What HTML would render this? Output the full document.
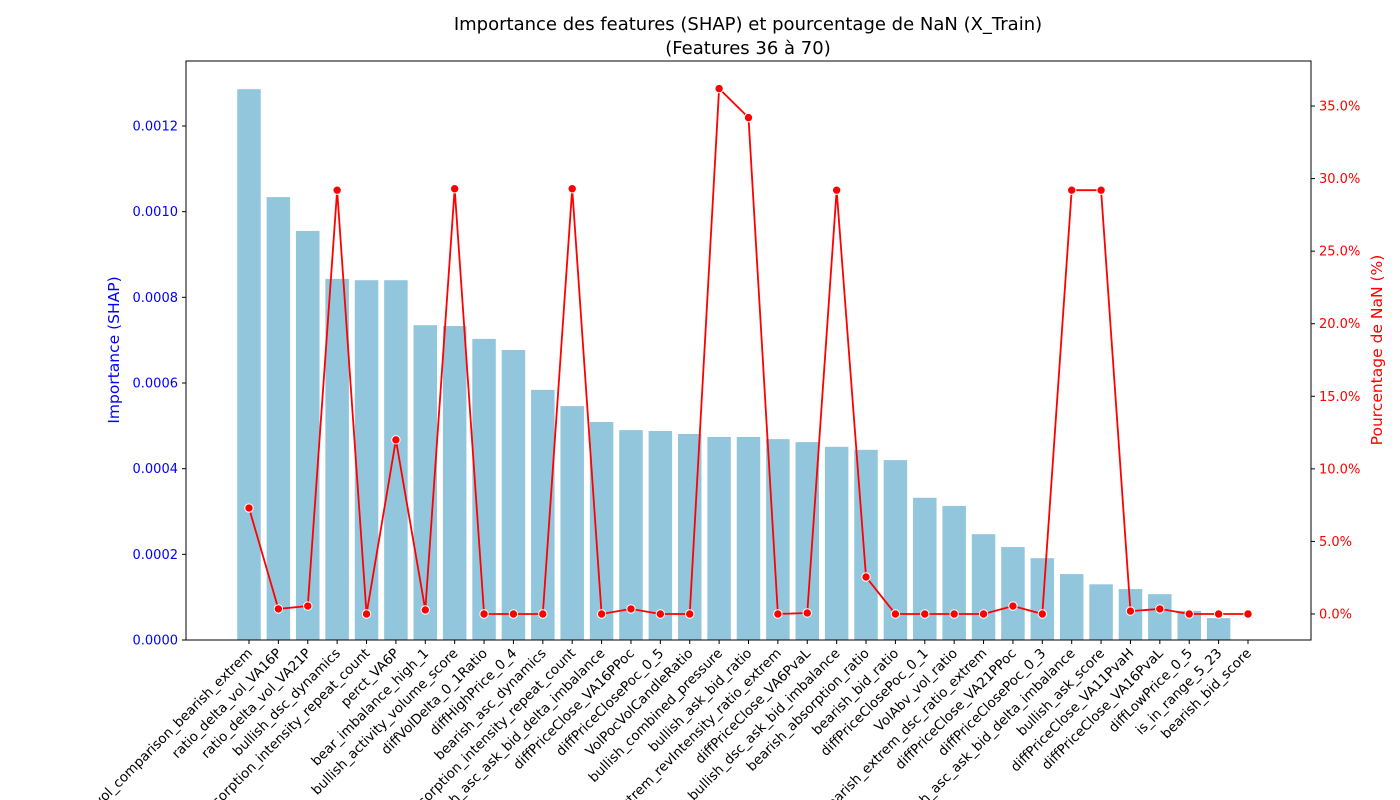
<!DOCTYPE html>
<html><head><meta charset="utf-8"><style>
html,body{margin:0;background:#fff;overflow:hidden;width:1400px;height:800px}
svg{font-family:"DejaVu Sans","Liberation Sans",sans-serif;display:block;overflow:hidden}
</style></head><body>
<svg id="chart" width="1400" height="800"></svg>
<script>
const categories=["vol_comparison_bearish_extrem","ratio_delta_vol_VA16P","ratio_delta_vol_VA21P","bullish_dsc_dynamics","absorption_intensity_repeat_count","perct_VA6P","bear_imbalance_high_1","bullish_activity_volume_score","diffVolDelta_0_1Ratio","diffHighPrice_0_4","bearish_asc_dynamics","bullish_absorption_intensity_repeat_count","bearish_asc_ask_bid_delta_imbalance","diffPriceClose_VA16PPoc","diffPriceClosePoc_0_5","VolPocVolCandleRatio","bullish_combined_pressure","bullish_ask_bid_ratio","bearish_extrem_revIntensity_ratio_extrem","diffPriceClose_VA6PvaL","bullish_dsc_ask_bid_imbalance","bearish_absorption_ratio","bearish_bid_ratio","diffPriceClosePoc_0_1","VolAbv_vol_ratio","bearish_extrem_dsc_ratio_extrem","diffPriceClose_VA21PPoc","diffPriceClosePoc_0_3","bullish_asc_ask_bid_delta_imbalance","bullish_ask_score","diffPriceClose_VA11PvaH","diffPriceClose_VA16PvaL","diffLowPrice_0_5","is_in_range_5_23","bearish_bid_score"];
const shapValues=[0.001286,0.001034,0.000955,0.000843,0.00084,0.00084,0.000735,0.000733,0.000703,0.000677,0.000584,0.000546,0.000509,0.00049,0.000488,0.000481,0.000474,0.000474,0.000469,0.000462,0.000451,0.000444,0.00042,0.000332,0.000313,0.000247,0.000217,0.000191,0.000154,0.00013,0.000119,0.000107,0.000068,0.000051,0];
const nanPct=[7.3,0.35,0.55,29.2,0,12.0,0.28,29.3,0,0,0,29.3,0,0.35,0,0,36.2,34.2,0,0.07,29.2,2.55,0,0,0,0,0.55,0,29.2,29.2,0.2,0.35,0,0,0];
const leftTicks=[0,0.0002,0.0004,0.0006,0.0008,0.0010,0.0012];
const rightTicks=[0,5,10,15,20,25,30,35];

const NS="http://www.w3.org/2000/svg";
const svg=document.getElementById('chart');
function mk(tag,attrs,parent){const e=document.createElementNS(NS,tag);for(const k in attrs)e.setAttribute(k,attrs[k]);(parent||svg).appendChild(e);return e;}
const L=186,R=1311,T=61,B=640;
const yL=v=>B-v/0.001*428.33;
const yR=p=>614-p*14.514;
const xC=i=>249+i*29.382;
const bw=23.5;

categories.forEach((c,i)=>{
  const r=mk('rect',{x:xC(i)-bw/2,y:yL(shapValues[i]),width:bw,height:B-yL(shapValues[i]),fill:'#92c6dd'});
  
  
});
let d='';
nanPct.forEach((p,i)=>{d+=(i?'L':'M')+xC(i)+' '+yR(p);});
const ln=mk('path',{d:d,fill:'none',stroke:'#ff0000','stroke-width':1.8});


nanPct.forEach((p,i)=>{
  const c=mk('circle',{cx:xC(i),cy:yR(p),r:4.2,fill:'#ff0000',stroke:'#fff','stroke-width':1});
  
  
});
const fr=mk('rect',{x:L,y:T,width:R-L,height:B-T,fill:'none',stroke:'#000','stroke-width':1});



leftTicks.forEach(v=>{
  const y=yL(v);
  mk('line',{x1:L-4,x2:L,y1:y,y2:y,stroke:'#000'});
  const t=mk('text',{x:L-8,y:y+4.5,'text-anchor':'end','font-size':13,fill:'#0000ff'});
  t.textContent=v.toFixed(4);
  
  
});
rightTicks.forEach(v=>{
  const y=yR(v);
  mk('line',{x1:R,x2:R+4,y1:y,y2:y,stroke:'#000'});
  const t=mk('text',{x:R+8,y:y+4.5,'font-size':13,fill:'#ff0000'});
  t.textContent=v.toFixed(1)+'%';
  
  
});
categories.forEach((c,i)=>{
  const x=xC(i);
  mk('line',{x1:x,x2:x,y1:B,y2:B+4,stroke:'#000'});
  const t=mk('text',{x:x+4,y:B+14,'text-anchor':'end','font-size':13.5,fill:'#000',transform:`rotate(-45 ${x+4} ${B+14})`});
  t.textContent=c;
  
  
});
let t=mk('text',{x:748,y:30,'text-anchor':'middle','font-size':18});
t.textContent='Importance des features (SHAP) et pourcentage de NaN (X_Train)';


t=mk('text',{x:748,y:54,'text-anchor':'middle','font-size':18});
t.textContent='(Features 36 à 70)';


t=mk('text',{x:119,y:350,'text-anchor':'middle','font-size':15.5,fill:'#0000ff',transform:'rotate(-90 119 350)'});
t.textContent='Importance (SHAP)';


t=mk('text',{x:1382,y:350,'text-anchor':'middle','font-size':15.5,fill:'#ff0000',transform:'rotate(-90 1382 350)'});
t.textContent='Pourcentage de NaN (%)';


</script>
</body></html>
